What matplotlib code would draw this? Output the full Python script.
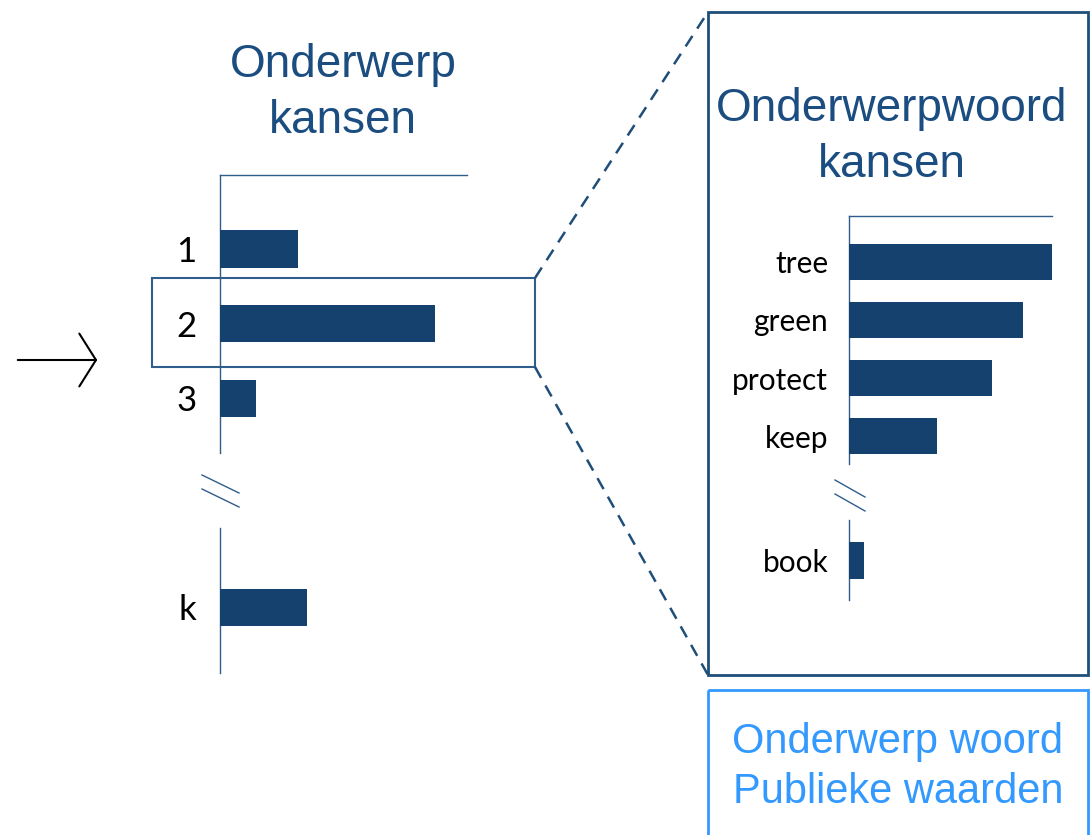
import matplotlib
matplotlib.use("Agg")
import matplotlib.pyplot as plt
from matplotlib.patches import Rectangle

# topic probabilities (left) and topic-word probabilities (right)
topic_labels = ["1", "2", "3"]
topic_probs = [0.158, 0.435, 0.073]
last_topic_label = ["k"]
last_topic_prob = [0.176]

word_labels = ["tree", "green", "protect", "keep"]
word_probs = [0.200, 0.171, 0.141, 0.087]
last_word_label = ["book"]
last_word_prob = [0.015]

W, H = 1090, 835
BAR = "#15416F"
LINE = "#2F5D8C"
TITLE = "#1B4D80"
LIGHT = "#3399FF"

fig = plt.figure(figsize=(W / 100, H / 100), dpi=100)

# overlay in pixel coordinates for frames, titles and connectors
ov = fig.add_axes([0, 0, 1, 1])
ov.set_xlim(0, W)
ov.set_ylim(H, 0)
ov.axis("off")


def px_axes(x0, y0, x1, y1):
    return fig.add_axes([x0 / W, 1 - y1 / H, (x1 - x0) / W, (y1 - y0) / H])


def bar_panel(rect, labels, vals, xmax, ylim, height, top, pad, fsize):
    ax = px_axes(*rect)
    ax.set_facecolor("none")
    pos = list(range(len(vals)))
    ax.barh(pos, vals, height=height, color=BAR, zorder=3)
    ax.set_xlim(0, xmax)
    ax.set_ylim(*ylim)
    ax.set_yticks(pos)
    ax.set_yticklabels(labels, fontsize=fsize, family="Lato")
    ax.tick_params(axis="y", length=0, pad=pad)
    ax.set_xticks([])
    for s in ["right", "bottom"]:
        ax.spines[s].set_visible(False)
    ax.spines["top"].set_visible(top)
    for s in ["left", "top"]:
        ax.spines[s].set_color(LINE)
        ax.spines[s].set_linewidth(1.0)
    return ax


# left: topic probabilities
bar_panel((220, 175, 467, 453), topic_labels, topic_probs, 0.5,
          (2.73, -0.99), 0.5, True, 17, 25)
bar_panel((220, 528, 467, 673), last_topic_label, last_topic_prob, 0.5,
          (0.88, -1.06), 0.5, False, 17, 25)

# right: word probabilities for topic 2
bar_panel((849, 216, 1052, 464), word_labels, word_probs, 0.2,
          (3.48, -0.79), 0.63, True, 15, 21.5)
bar_panel((849, 520, 1052, 600), last_word_label, last_word_prob, 0.2,
          (0.68, -0.70), 0.65, False, 15, 21.5)

# axis break marks
for dy in (0, 14):
    ov.plot([202, 239], [475 + dy, 493 + dy], color=LINE, lw=1.0)
    ov.plot([835, 865], [480 + dy, 497 + dy], color=LINE, lw=1.0)

# titles
ov.text(343, 93, "Onderwerp\nkansen", ha="center", va="center", fontsize=33,
        color=TITLE, family="Liberation Sans", linespacing=1.35)
ov.text(892, 137, "Onderwerpwoord\nkansen", ha="center", va="center", fontsize=33,
        color=TITLE, family="Liberation Sans", linespacing=1.38)

# highlight box around topic 2 and zoom frame
ov.add_patch(Rectangle((152, 278), 383, 89, fill=False, ec=LINE, lw=1.5))
ov.add_patch(Rectangle((708, 12), 380, 663, fill=False, ec="#1F4E79", lw=2.0))
ov.plot([535, 708], [278, 12], color="#1F4E79", lw=1.8, ls=(0, (5, 3.5)))
ov.plot([535, 708], [367, 675], color="#1F4E79", lw=1.8, ls=(0, (5, 3.5)))

# public values box
ov.add_patch(Rectangle((708, 690), 380, 160, fill=False, ec=LIGHT, lw=2.0,
                       clip_on=False))
ov.text(898, 767, "Onderwerp woord\nPublieke waarden",
        ha="center", va="center", fontsize=30, color=LIGHT,
        family="Liberation Sans", linespacing=1.35)

# input arrow
ov.annotate("", xy=(100, 360), xytext=(15, 360),
            arrowprops=dict(arrowstyle="->,head_length=1.2,head_width=1.9",
                            color="black", lw=1.5, mutation_scale=10))

fig.savefig("out.png", dpi=100)
